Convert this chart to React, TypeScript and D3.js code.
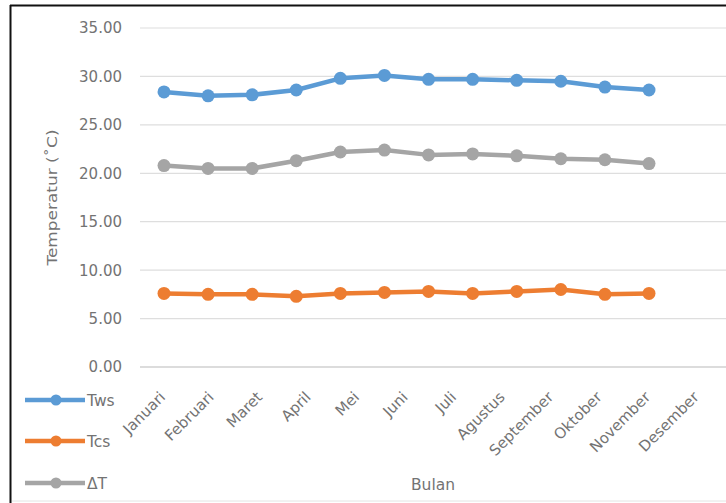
import React from "react";
import * as d3 from "d3";

const months = ["Januari", "Februari", "Maret", "April", "Mei", "Juni", "Juli", "Agustus", "September", "Oktober", "November", "Desember"];
const tws = [28.4, 28.0, 28.1, 28.6, 29.8, 30.1, 29.7, 29.7, 29.6, 29.5, 28.9, 28.6];
const tcs = [7.6, 7.5, 7.5, 7.3, 7.6, 7.7, 7.8, 7.6, 7.8, 8.0, 7.5, 7.6];
const dT = [20.8, 20.5, 20.5, 21.3, 22.2, 22.4, 21.9, 22.0, 21.8, 21.5, 21.4, 21.0];
const yTicks = [0, 5, 10, 15, 20, 25, 30, 35];
const seriesNames = ["Tws", "Tcs", "ΔT"];
const seriesColors = ["#5b9bd5", "#ed7d31", "#a5a5a5"];
const seriesValues = [tws, tcs, dT];

const W = 726;
const H = 503;
const FONT = "DejaVu Sans, sans-serif";
const TXT = "#737373";

export default function App() {
  const y = d3.scaleLinear().domain([0, 35]).range([367, 28]);
  const xPts = d3.scalePoint<string>().domain(months).range([164, 649]);
  const xBand = d3.scaleBand<string>().domain(months).range([140, 722]);
  const line = d3
    .line<number>()
    .x((_, i) => xPts(months[i]) as number)
    .y((v) => y(v));

  return (
    <svg
      width={W}
      height={H}
      style={{ position: "absolute", left: 0, top: 0, background: "#fff" }}
      fontFamily={FONT}
    >
      <rect x={0} y={0} width={W} height={H} fill="#fff" />
      {/* frame */}
      <line x1={10} x2={W} y1={5.5} y2={5.5} stroke="#111" strokeWidth={2} />
      <line x1={10.5} x2={10.5} y1={5} y2={H} stroke="#111" strokeWidth={2} />
      <line x1={12} x2={W} y1={501} y2={501} stroke="#e4e4e4" strokeWidth={1} />

      {/* gridlines */}
      {yTicks.map((t) => (
        <g key={t}>
          <line
            x1={140}
            x2={W}
            y1={y(t)}
            y2={y(t)}
            stroke={t === 0 ? "#d0d0d0" : "#dedede"}
            strokeWidth={t === 0 ? 1.5 : 1.2}
          />
          <text
            x={122}
            y={y(t)}
            dy="0.36em"
            textAnchor="end"
            fontSize={15}
            fill={TXT}
          >
            {d3.format(".2f")(t)}
          </text>
        </g>
      ))}

      {/* y title */}
      <text
        transform={`translate(57, ${(y(0) + y(35)) / 2}) rotate(-90)`}
        textAnchor="middle"
        fontSize={14}
        textLength={136}
        lengthAdjust="spacingAndGlyphs"
        fill={TXT}
      >
        Temperatur (˚C)
      </text>

      {/* x labels */}
      {months.map((m) => (
        <text
          key={m}
          transform={`translate(${(xBand(m) as number) + xBand.bandwidth() / 2 + 2}, 398) rotate(-45)`}
          textAnchor="end"
          fontSize={15}
          fill={TXT}
        >
          {m}
        </text>
      ))}

      {/* x title */}
      <text x={433} y={490} textAnchor="middle" fontSize={15.5} fill={TXT}>
        Bulan
      </text>

      {/* series */}
      {seriesValues.map((vals, si) => (
        <g key={seriesNames[si]}>
          <path
            d={line(vals) as string}
            fill="none"
            stroke={seriesColors[si]}
            strokeWidth={4.5}
            strokeLinejoin="round"
          />
          {vals.map((v, i) => (
            <circle
              key={i}
              cx={xPts(months[i]) as number}
              cy={y(v)}
              r={6.5}
              fill={seriesColors[si]}
            />
          ))}
        </g>
      ))}

      {/* legend */}
      {seriesNames.map((n, i) => {
        const ly = [400, 441, 483][i];
        return (
          <g key={n}>
            <line x1={25} x2={85} y1={ly} y2={ly} stroke={seriesColors[i]} strokeWidth={4.5} />
            <circle cx={56} cy={ly} r={5.5} fill={seriesColors[i]} />
            <text x={87} y={ly} dy="0.36em" fontSize={15.5} fill={TXT}>
              {n}
            </text>
          </g>
        );
      })}
    </svg>
  );
}
